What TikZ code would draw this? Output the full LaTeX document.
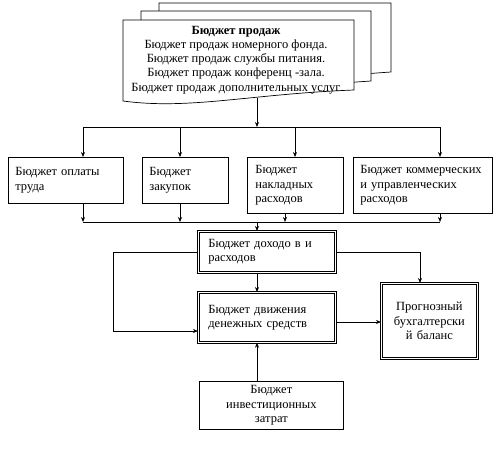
\documentclass[tikz,border=0pt]{standalone}
\usepackage{fontspec}
\setmainfont{Liberation Serif}
\usetikzlibrary{positioning,arrows.meta}

\tikzset{
  sheet/.style={draw,fill=white,line width=.7pt},
  plainbox/.style={draw,line width=.7pt,anchor=north west,align=left,inner xsep=7pt},
  dblbox/.style={draw,double,double distance=1.5pt,line width=.7pt,anchor=north west,inner xsep=10pt},
  link/.style={->,line width=.7pt}
}

\begin{document}
\begin{tikzpicture}[x=1pt,y=-1pt,font=\fontsize{12.5}{14.2}\selectfont,>={Stealth[length=5pt,width=4pt]}]
\useasboundingbox (0,0) rectangle (498,456);
% Stacked sheets of the sales budget.
\draw[sheet] (159,3) -- (391,3) -- (391,72) .. controls (300,78) and (240,90) .. (159,85) -- cycle;
\draw[sheet] (141,11) -- (371,11) -- (371,81) .. controls (280,87) and (220,99) .. (141,94) -- cycle;
\draw[sheet] (123,20) -- (354,20) -- (354,90) .. controls (250,94) and (190,110) .. (123,101) -- cycle;
\node[align=center] (sales) at (236,60) {\textbf{Бюджет продаж}\\Бюджет продаж номерного фонда.\\Бюджет продаж службы питания.\\Бюджет продаж конференц -зала.\\Бюджет продаж дополнительных услуг};
\coordinate (docb) at (257,98);
% Upper bus and the four budgets.
\coordinate (busA) at (83,127);
\coordinate (busB) at (440,127);
\draw[line width=.7pt] (busA) -- (busB);
\draw[link] (docb) -- (docb |- busA);
\node[plainbox,text width=101pt,minimum height=46pt] (labour) at (8,157) {Бюджет оплаты\\труда};
\node[plainbox,text width=72pt,minimum height=46pt] (purch) at (142,157) {Бюджет\\закупок};
\node[plainbox,text width=80pt,minimum height=56pt,inner xsep=8pt] (over) at (247,157) {Бюджет\\накладных\\расходов};
\node[plainbox,text width=125pt,minimum height=56pt] (sga) at (353,157) {Бюджет коммерческих\\и управленческих\\расходов};
\coordinate (t1) at (83,127);
\coordinate (t2) at (180,127);
\coordinate (t3) at (295,127);
\coordinate (t4) at (440,127);
\draw[link] (t1) -- (t1 |- labour.north);
\draw[link] (t2) -- (t2 |- purch.north);
\draw[link] (t3) -- (t3 |- over.north);
\draw[link] (t4) -- (t4 |- sga.north);
% Lower bus.
\coordinate (u1) at (83,222);
\coordinate (u2) at (180,222);
\coordinate (u3) at (285,222);
\coordinate (u4) at (440,222);
\draw[line width=.7pt] (u1) -- (u4);
\draw[link] (u1 |- labour.south) -- (u1);
\draw[link] (u2 |- purch.south) -- (u2);
\draw[link] (u3 |- over.south) -- (u3);
\draw[link] (u4 |- sga.south) -- (u4);
% Income, cash flow, balance and investment.
\node[dblbox,align=left,text width=117pt,minimum height=41pt] (inc) at (198,231) {Бюджет доходо в и\\расходов};
\node[dblbox,align=left,text width=117pt,minimum height=50pt] (cash) at (198,292) {Бюджет движения\\денежных средств};
\node[dblbox,align=center,text width=80pt,minimum height=75pt,inner xsep=8pt] (bal) at (381,283) {Прогнозный\\бухгалтерски\\й баланс};
\node[plainbox,align=center,text width=130pt,minimum height=48pt] (inv) at (199,381) {Бюджет\\инвестиционных\\затрат};
\coordinate (mid) at (257,222);
\coordinate (lp) at (113,331);
\coordinate (rp) at (420,252);
\coordinate (cp) at (335,322);
\draw[link] (mid) -- (mid |- inc.north);
\draw[link] (mid |- inc.south) -- (mid |- cash.north);
\draw[link] (mid |- inv.north) -- (mid |- cash.south);
\draw[link] (inc.west) -| (lp) -- (lp -| cash.west);
\draw[link] (inc.east) -| (rp |- bal.north);
\draw[link] (cp -| cash.east) -- (cp -| bal.west);
\end{tikzpicture}
\end{document}
